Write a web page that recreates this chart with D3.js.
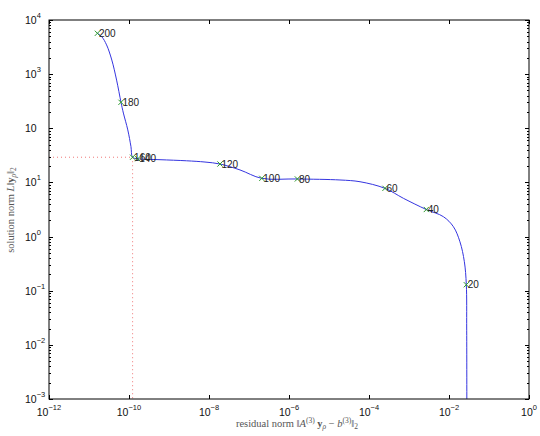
<!DOCTYPE html>
<html>
<head>
<meta charset="utf-8">
<script src="https://cdn.jsdelivr.net/npm/d3@7/dist/d3.min.js"></script>
<style>
  html, body { margin: 0; padding: 0; background: #fff; }
  svg { display: block; }
</style>
</head>
<body>
<svg id="chart" width="540" height="436"></svg>
<script>
// ---- data ----
const pointLabels   = [200, 180, 160, 140, 120, 100, 80, 60, 40, 20];
const pointResidual = [1.62e-11, 6.31e-11, 1.23e-10, 1.66e-10, 1.88e-8, 2.09e-7, 1.62e-6, 2.51e-4, 2.71e-3, 2.71e-2];
const pointSolution = [5680, 302, 29.2, 27.4, 21.9, 11.9, 11.6, 7.78, 3.16, 0.129];

const curveResidual = [1.62e-11, 2.09e-11, 2.75e-11, 3.72e-11, 4.9e-11, 6.31e-11, 7.24e-11, 9.33e-11, 1.12e-10, 1.23e-10,
  1.66e-10, 5.96e-10, 2.75e-9, 7.94e-9, 1.88e-8, 5.96e-8, 2.09e-7, 1.62e-6, 1.88e-5, 5.96e-5,
  2.51e-4, 7.24e-4, 2.71e-3, 7.24e-3, 1.29e-2, 1.88e-2, 2.42e-2, 2.71e-2, 2.77e-2, 2.79e-2];
const curveSolution = [5680, 4900, 3470, 1820, 776, 302, 191, 93.3, 45.7, 29.2,
  27.4, 26.3, 25.1, 23.8, 21.9, 17.0, 11.9, 11.6, 11.1, 10.3,
  7.78, 5.09, 3.16, 2.33, 1.52, 0.80, 0.344, 0.129, 0.0186, 4.07e-4];

const cornerIndex = 2; // the "160" point marked by dotted guides

const xTickValues = [1e-12, 1e-10, 1e-8, 1e-6, 1e-4, 1e-2, 1];
const xTickSups   = ["\u221212", "\u221210", "\u22128", "\u22126", "\u22124", "\u22122", "0"];
const yTickValues = [1e-3, 1e-2, 1e-1, 1, 10, 100, 1000, 10000];
const yTickSups   = ["\u22123", "\u22122", "\u22121", "0", "1", "", "3", "4"];

// ---- layout ----
const svg = d3.select("#chart");
const L = 49, R = 529, T = 20, B = 399;
const x = d3.scaleLog().domain([1e-12, 1]).range([L, R]);
const y = d3.scaleLog().domain([1e-3, 1e4]).range([B, T]);

svg.append("defs").append("clipPath").attr("id", "clip")
  .append("rect").attr("x", L).attr("y", T).attr("width", R - L).attr("height", B - T);

// dotted corner guides
const cx = x(pointResidual[cornerIndex]), cy = y(pointSolution[cornerIndex]);
svg.append("line").attr("x1", L).attr("x2", cx).attr("y1", cy).attr("y2", cy)
  .attr("stroke", "#f07878").attr("stroke-width", 1).attr("stroke-dasharray", "1,3");
svg.append("line").attr("x1", cx).attr("x2", cx).attr("y1", cy).attr("y2", B)
  .attr("stroke", "#f07878").attr("stroke-width", 1).attr("stroke-dasharray", "1,3");

// curve
const curveData = curveResidual.map((r, i) => [r, curveSolution[i]]);
const line = d3.line().x(d => x(d[0])).y(d => y(d[1])).curve(d3.curveCatmullRom.alpha(0.5));
svg.append("path").attr("clip-path", "url(#clip)")
  .attr("d", line(curveData)).attr("fill", "none")
  .attr("stroke", "#3535e0").attr("stroke-width", 1);

// markers
const pts = pointLabels.map((l, i) => ({ l, r: pointResidual[i], s: pointSolution[i] }));
const ms = 2.6;
const mg = svg.append("g");
pts.forEach(p => {
  const px = x(p.r), py = y(p.s);
  mg.append("path")
    .attr("d", `M${px - ms},${py - ms}L${px + ms},${py + ms}M${px - ms},${py + ms}L${px + ms},${py - ms}`)
    .attr("stroke", "#2e9a2e").attr("stroke-width", 1).attr("fill", "none");
});
// annotations
svg.append("g").selectAll("text").data(pts).join("text")
  .attr("x", d => x(d.r) + 1.5).attr("y", d => y(d.s)).attr("dy", "0.36em")
  .attr("font-family", "Liberation Sans, Arial, sans-serif").attr("font-size", 10)
  .attr("fill", "#222").text(d => d.l);

// frame
svg.append("rect").attr("x", L).attr("y", T).attr("width", R - L).attr("height", B - T)
  .attr("fill", "none").attr("stroke", "#000").attr("stroke-width", 1);

// ticks
const tg = svg.append("g").attr("stroke", "#000").attr("stroke-width", 1);
xTickValues.forEach(v => {
  const px = Math.round(x(v)) + 0.5;
  tg.append("line").attr("x1", px).attr("x2", px).attr("y1", B).attr("y2", B - 4);
  tg.append("line").attr("x1", px).attr("x2", px).attr("y1", T).attr("y2", T + 4);
});
const yMinor = [];
yTickValues.slice(0, -1).forEach(v => { for (let k = 2; k <= 9; k++) yMinor.push(v * k); });
yTickValues.forEach(v => {
  const py = Math.round(y(v)) + 0.5;
  tg.append("line").attr("x1", L).attr("x2", L + 4).attr("y1", py).attr("y2", py);
  tg.append("line").attr("x1", R).attr("x2", R - 4).attr("y1", py).attr("y2", py);
});
yMinor.forEach(v => {
  const py = Math.round(y(v)) + 0.5;
  tg.append("line").attr("x1", L).attr("x2", L + 2).attr("y1", py).attr("y2", py);
  tg.append("line").attr("x1", R).attr("x2", R - 2).attr("y1", py).attr("y2", py);
});

// tick labels
const font = "Liberation Sans, Arial, sans-serif";
xTickValues.forEach((v, i) => {
  const t = svg.append("text").attr("x", x(v)).attr("y", 416)
    .attr("text-anchor", "middle").attr("font-family", font).attr("font-size", 10.5).attr("fill", "#111");
  t.append("tspan").text("10");
  t.append("tspan").attr("dy", -6).attr("font-size", 7.5).text(xTickSups[i]);
});
yTickValues.forEach((v, i) => {
  const t = svg.append("text").attr("x", 25).attr("y", y(v) + 4)
    .attr("text-anchor", "start").attr("font-family", font).attr("font-size", 10.5).attr("fill", "#111");
  t.append("tspan").text("10");
  if (yTickSups[i]) t.append("tspan").attr("dy", -6).attr("font-size", 7.5).text(yTickSups[i]);
});

// axis titles
const serif = "Liberation Serif, Times New Roman, serif";
const xl = svg.append("text").attr("x", 297).attr("y", 427).attr("text-anchor", "middle")
  .attr("font-family", serif).attr("font-size", 10.5).attr("fill", "#555");
xl.append("tspan").text("residual norm \u2016");
xl.append("tspan").attr("font-style", "italic").text("A");
xl.append("tspan").attr("dy", -4).attr("font-size", 7.5).text("(3)");
xl.append("tspan").attr("dy", 4).attr("font-weight", "bold").text(" y");
xl.append("tspan").attr("dy", 2).attr("font-size", 7.5).attr("font-style", "italic").text("\u03C1");
xl.append("tspan").attr("dy", -2).text(" \u2212 ");
xl.append("tspan").attr("font-style", "italic").text("b");
xl.append("tspan").attr("dy", -4).attr("font-size", 7.5).text("(3)");
xl.append("tspan").attr("dy", 4).text("\u2016");
xl.append("tspan").attr("dy", 2).attr("font-size", 7.5).text("2");

const yl = svg.append("text").attr("transform", "translate(14,210) rotate(-90)")
  .attr("text-anchor", "middle").attr("font-family", serif).attr("font-size", 10.5).attr("fill", "#555");
yl.append("tspan").text("solution norm ");
yl.append("tspan").attr("font-style", "italic").text("L");
yl.append("tspan").text("\u2016");
yl.append("tspan").attr("font-weight", "bold").text("y");
yl.append("tspan").attr("dy", 2).attr("font-size", 7.5).attr("font-style", "italic").text("\u03C1");
yl.append("tspan").attr("dy", -2).text("\u2016");
yl.append("tspan").attr("dy", 2).attr("font-size", 7.5).text("2");
</script>
</body>
</html>
